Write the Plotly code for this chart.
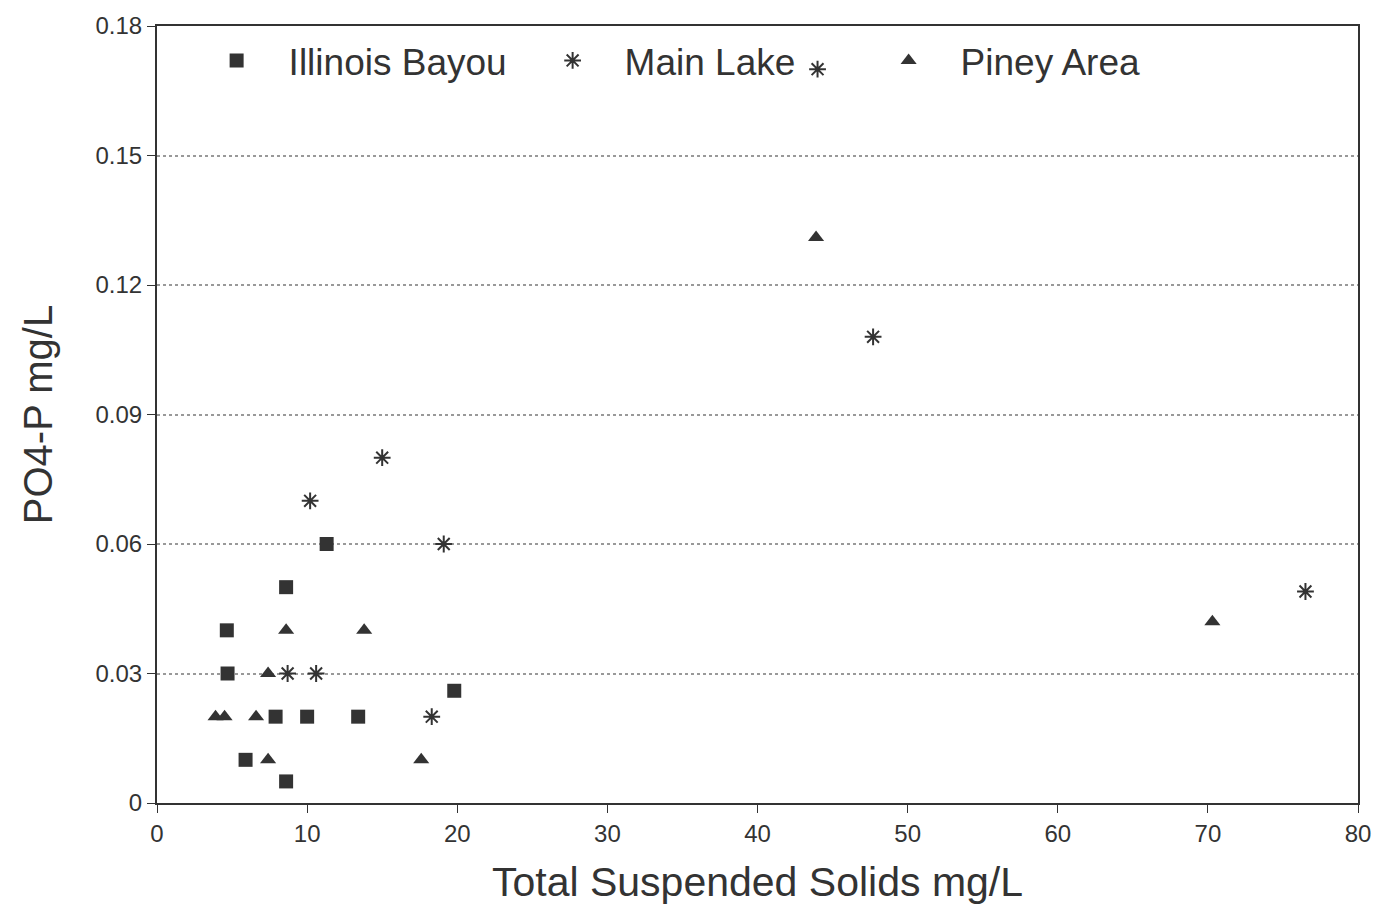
import plotly.graph_objects as go

# Illinois Bayou
ib_x = [11.3, 8.6, 4.65, 4.7, 7.9, 10.0, 13.4, 19.8, 5.9, 8.6]
ib_y = [0.060, 0.050, 0.040, 0.030, 0.020, 0.020, 0.020, 0.026, 0.010, 0.005]
# Main Lake
ml_x = [44.0, 47.7, 15.0, 10.2, 19.1, 8.7, 10.6, 18.3, 76.5]
ml_y = [0.170, 0.108, 0.080, 0.070, 0.060, 0.030, 0.030, 0.020, 0.049]
# Piney Area
pa_x = [43.9, 70.3, 8.6, 13.8, 7.4, 3.9, 4.5, 6.6, 7.4, 17.6]
pa_y = [0.131, 0.042, 0.040, 0.040, 0.030, 0.020, 0.020, 0.020, 0.010, 0.010]

x_ticks = [0, 10, 20, 30, 40, 50, 60, 70, 80]
y_ticks = [0, 0.03, 0.06, 0.09, 0.12, 0.15, 0.18]
y_tick_text = ["0", "0.03", "0.06", "0.09", "0.12", "0.15", "0.18"]

ink = "#333333"
font = "Liberation Sans, Arial, sans-serif"

fig = go.Figure()
fig.add_trace(go.Scatter(x=ib_x, y=ib_y, mode="markers", name="Illinois Bayou",
                         marker=dict(symbol="square", size=14, color=ink)))
fig.add_trace(go.Scatter(x=ml_x, y=ml_y, mode="markers", name="Main Lake",
                         marker=dict(symbol="asterisk-open", size=14, color=ink,
                                     line=dict(width=2, color=ink))))
fig.add_trace(go.Scatter(x=pa_x, y=pa_y, mode="markers", name="Piney Area",
                         marker=dict(symbol="triangle-up", size=14, color=ink)))

fig.update_layout(
    width=1383, height=919,
    margin=dict(l=157, r=23, t=20, b=116),
    paper_bgcolor="white", plot_bgcolor="white",
    font=dict(family=font, color=ink, size=22),
    showlegend=True,
    legend=dict(orientation="h", x=0.023, y=0.995, xanchor="left", yanchor="top",
                font=dict(size=37, color=ink), bgcolor="rgba(0,0,0,0)",
                itemwidth=94, tracegroupgap=0, entrywidth=227, entrywidthmode="pixels"),
    xaxis=dict(range=[0, 80], tickvals=x_ticks, ticks="outside", ticklen=8,
               tickcolor=ink, showline=True, linecolor=ink, linewidth=2,
               mirror=True, showgrid=False, zeroline=False,
               tickfont=dict(size=24),
               title=dict(text="Total Suspended Solids mg/L", font=dict(size=41), standoff=22)),
    yaxis=dict(range=[0, 0.18], tickvals=y_ticks, ticktext=y_tick_text,
               ticks="outside", ticklen=8, tickcolor=ink,
               showline=True, linecolor=ink, linewidth=2, mirror=True,
               showgrid=True, gridcolor="#999999", griddash="dot", gridwidth=1.5,
               zeroline=False, tickfont=dict(size=24),
               title=dict(text="PO4-P mg/L", font=dict(size=40), standoff=30)),
)

fig.write_html("out.html")
